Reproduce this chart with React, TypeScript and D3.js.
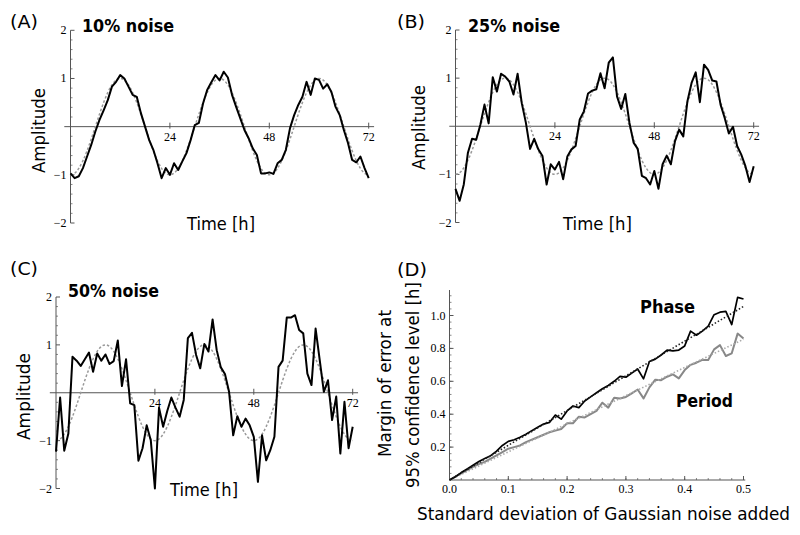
import React from "react";
import * as d3 from "d3";

// ---------- data ----------
const hours = d3.range(73);
const fitCurve = [
  -1, -0.966, -0.866, -0.707, -0.5, -0.259, 0, 0.259, 0.5, 0.707, 0.866, 0.966,
  1, 0.966, 0.866, 0.707, 0.5, 0.259, 0, -0.259, -0.5, -0.707, -0.866, -0.966,
  -1, -0.966, -0.866, -0.707, -0.5, -0.259, 0, 0.259, 0.5, 0.707, 0.866, 0.966,
  1, 0.966, 0.866, 0.707, 0.5, 0.259, 0, -0.259, -0.5, -0.707, -0.866, -0.966,
  -1, -0.966, -0.866, -0.707, -0.5, -0.259, 0, 0.259, 0.5, 0.707, 0.866, 0.966,
  1, 0.966, 0.866, 0.707, 0.5, 0.259, 0, -0.259, -0.5, -0.707, -0.866, -0.966,
  -1,
];
const noise10 = [
  -0.97, -1.07, -1.03, -0.86, -0.62, -0.38, -0.1, 0.14, 0.34, 0.55, 0.83, 0.93,
  1.07, 1.0, 0.83, 0.66, 0.62, 0.28, 0.0, -0.28, -0.48, -0.76, -1.07, -0.86,
  -1.0, -0.76, -0.9, -0.72, -0.55, -0.28, 0.03, 0.08, 0.48, 0.76, 0.92, 1.07,
  0.96, 1.14, 1.02, 0.66, 0.41, 0.17, -0.07, -0.24, -0.45, -0.59, -0.97, -0.97,
  -0.95, -0.98, -0.76, -0.69, -0.48, -0.03, 0.24, 0.45, 0.62, 0.93, 0.66, 1.0,
  0.97, 0.79, 0.88, 0.72, 0.41, 0.24, -0.07, -0.34, -0.69, -0.74, -0.62, -0.86,
  -1.07,
];
const noise25 = [
  -1.3, -1.55, -1.21, -0.55, -0.26, -0.28, 0.03, 0.45, 0.06, 1.02, 0.72, 1.09,
  1.03, 0.93, 0.66, 1.09, 0.48, 0.07, -0.47, -0.26, -0.48, -0.62, -1.21, -0.79,
  -0.9, -0.74, -1.1, -0.63, -0.48, -0.41, 0.14, 0.31, 0.68, 0.74, 0.77, 1.1,
  0.79, 1.32, 1.43, 0.62, 0.36, 0.67, 0.07, -0.34, -0.47, -1.03, -1.08, -1.21,
  -0.93, -1.3, -0.79, -0.61, -0.79, -0.31, -0.07, -0.21, 0.52, 0.9, 1.12, 0.5,
  1.28, 1.17, 0.95, 0.93, 0.45, 0.17, -0.15, -0.01, -0.41, -0.59, -0.83, -1.16,
  -0.83,
];
const noise50 = [
  -1.23, -0.1, -1.21, -0.85, 0.75, 0.67, 0.56, 0.7, 0.84, 0.44, 0.82, 0.67,
  0.8, 0.6, 0.66, 1.09, 0.14, 0.7, -0.22, -0.26, -1.42, -1.16, -0.68, -0.99,
  -2.0, -0.31, -0.71, -0.38, -0.1, -0.31, -0.5, -0.15, 1.14, 1.25, 0.79, 0.51,
  1.02, 0.86, 1.53, 0.89, 0.53, 0.39, 0.02, -0.89, -0.49, -0.71, -0.54, -0.68,
  -0.92, -1.86, -0.89, -1.41, -1.2, -0.92, 0.54, 0.67, 1.57, 1.57, 1.62, 1.31,
  1.24, 0.4, 0.16, 1.34, 0.68, 0.02, 0.26, -0.57, -0.08, -1.27, -0.19, -1.16,
  -0.71,
];
const timeTicks = [24, 48, 72];
const ampTicks = [-2, -1, 1, 2];

const sdLevels = d3.range(51).map((i) => i / 100);
const phaseMargin = [
  0, 0.02, 0.045, 0.067, 0.09, 0.112, 0.13, 0.148, 0.175, 0.21, 0.235, 0.245,
  0.26, 0.278, 0.3, 0.32, 0.34, 0.35, 0.395, 0.37, 0.42, 0.45, 0.44, 0.48,
  0.505, 0.53, 0.555, 0.575, 0.6, 0.63, 0.625, 0.65, 0.675, 0.615, 0.72, 0.735,
  0.76, 0.79, 0.785, 0.79, 0.815, 0.905, 0.88, 0.905, 0.935, 1.005, 1.02, 1.025,
  0.945, 1.11, 1.1,
];
const periodMargin = [
  0, 0.02, 0.04, 0.06, 0.08, 0.097, 0.11, 0.13, 0.15, 0.17, 0.19, 0.2, 0.21,
  0.23, 0.245, 0.26, 0.275, 0.29, 0.3, 0.31, 0.345, 0.345, 0.385, 0.38, 0.4,
  0.42, 0.47, 0.44, 0.5, 0.495, 0.505, 0.527, 0.55, 0.496, 0.563, 0.61, 0.607,
  0.628, 0.642, 0.618, 0.668, 0.7, 0.713, 0.73, 0.73, 0.794, 0.82, 0.754, 0.77,
  0.89, 0.86,
];
const phaseFit = [
  [0, 0],
  [0.5, 1.055],
];
const periodFit = [
  [0, 0],
  [0.5, 0.855],
];
const sdTicks = [0, 0.1, 0.2, 0.3, 0.4, 0.5];
const marginTicks = [0.2, 0.4, 0.6, 0.8, 1.0];

// ---------- styles ----------
const SANS = "'DejaVu Sans', sans-serif";
const SERIF = "'Liberation Serif', 'DejaVu Serif', serif";
const AXIS = "#555";

type TSProps = {
  x0: number;
  x72: number;
  yTop: number;
  yBot: number;
  values: number[];
  tag: string;
  tagPos: [number, number];
  title: string;
  titlePos: [number, number, number];
  ampPos: [number, number, number];
  timePos: [number, number, number];
};

function TimePanel(p: TSProps) {
  const x = d3.scaleLinear().domain([0, 72]).range([p.x0, p.x72]);
  const y = d3.scaleLinear().domain([-2, 2]).range([p.yBot, p.yTop]);
  const line = d3
    .line<number>()
    .x((_, i) => x(hours[i]))
    .y((d) => y(d));
  const fitLine = d3
    .line<number>()
    .x((_, i) => x(hours[i]))
    .y((d) => y(d))
    .curve(d3.curveNatural);
  const minor = d3.range(-2, 2.001, 0.2).filter((v) => Math.abs(Math.round(v) - v) > 0.01);
  return (
    <g>
      <text x={p.tagPos[0]} y={p.tagPos[1]} fontFamily={SANS} fontSize={18} textLength={28} lengthAdjust="spacingAndGlyphs">
        {p.tag}
      </text>
      <text
        x={p.titlePos[0]}
        y={p.titlePos[1]}
        fontFamily={SANS}
        fontWeight="bold"
        fontSize={18}
        textLength={p.titlePos[2]}
        lengthAdjust="spacingAndGlyphs"
      >
        {p.title}
      </text>
      {/* y axis */}
      <line x1={x(0)} x2={x(0)} y1={y(-2)} y2={y(2)} stroke={AXIS} strokeWidth={1} />
      {ampTicks.map((t) => (
        <g key={t}>
          <line x1={x(0)} x2={x(0) + 4} y1={y(t)} y2={y(t)} stroke={AXIS} />
          <text x={x(0) - 4} y={y(t) + 4} textAnchor="end" fontFamily={SERIF} fontSize={12}>
            {t < 0 ? "\u2212" + Math.abs(t) : String(t)}
          </text>
        </g>
      ))}
      {minor.map((t) => (
        <line key={"m" + t} x1={x(0)} x2={x(0) + 2} y1={y(t)} y2={y(t)} stroke={AXIS} strokeWidth={0.7} />
      ))}
      {/* x axis */}
      <line x1={x(-1.5)} x2={x(73.3)} y1={y(0)} y2={y(0)} stroke={AXIS} strokeWidth={1} />
      {timeTicks.map((t) => (
        <g key={t}>
          <line x1={x(t)} x2={x(t)} y1={y(0) + 2} y2={y(0) - 4} stroke={AXIS} />
          <text x={x(t)} y={y(0) + 14} textAnchor="middle" fontFamily={SERIF} fontSize={12}>
            {t}
          </text>
        </g>
      ))}
      <path d={fitLine(fitCurve) || ""} fill="none" stroke="#999" strokeWidth={1.5} strokeDasharray="2.5,2" />
      <path d={line(p.values) || ""} fill="none" stroke="#000" strokeWidth={2} strokeLinejoin="round" />
      <text
        transform={`translate(${p.ampPos[0]},${p.ampPos[1]}) rotate(-90)`}
        textAnchor="middle"
        fontFamily={SANS}
        fontSize={17}
        textLength={p.ampPos[2]}
        lengthAdjust="spacingAndGlyphs"
      >
        Amplitude
      </text>
      <text
        x={p.timePos[0]}
        y={p.timePos[1]}
        fontFamily={SANS}
        fontSize={17}
        textLength={p.timePos[2]}
        lengthAdjust="spacingAndGlyphs"
      >
        Time [h]
      </text>
    </g>
  );
}

function MarginPanel() {
  const x = d3.scaleLinear().domain([0, 0.5]).range([449.5, 743.5]);
  const y = d3.scaleLinear().domain([0, 1.0]).range([480, 315.5]);
  const line = d3
    .line<number>()
    .x((_, i) => x(sdLevels[i]))
    .y((d) => y(d));
  const fit = d3
    .line<number[]>()
    .x((d) => x(d[0]))
    .y((d) => y(d[1]));
  const xMinor = d3.range(0, 0.501, 0.02);
  const yMinor = d3.range(0.04, 1.151, 0.04);
  return (
    <g>
      <text x={397} y={276} fontFamily={SANS} fontSize={18} textLength={30} lengthAdjust="spacingAndGlyphs">
        (D)
      </text>
      <line x1={x(0)} x2={x(0)} y1={y(0)} y2={y(1.155)} stroke={AXIS} />
      <line x1={x(0)} x2={x(0.503)} y1={y(0)} y2={y(0)} stroke={AXIS} />
      {yMinor.map((t) => (
        <line key={"ym" + t} x1={x(0)} x2={x(0) + 2} y1={y(t)} y2={y(t)} stroke={AXIS} strokeWidth={0.7} />
      ))}
      {xMinor.map((t) => (
        <line key={"xm" + t} x1={x(t)} x2={x(t)} y1={y(0)} y2={y(0) - 2} stroke={AXIS} strokeWidth={0.7} />
      ))}
      {marginTicks.map((t) => (
        <g key={t}>
          <line x1={x(0)} x2={x(0) + 4} y1={y(t)} y2={y(t)} stroke={AXIS} />
          <text x={x(0) - 4} y={y(t) + 4} textAnchor="end" fontFamily={SERIF} fontSize={12}>
            {t.toFixed(1)}
          </text>
        </g>
      ))}
      {sdTicks.map((t) => (
        <g key={t}>
          <line x1={x(t)} x2={x(t)} y1={y(0)} y2={y(0) - 4} stroke={AXIS} />
          <text x={x(t)} y={y(0) + 13} textAnchor="middle" fontFamily={SERIF} fontSize={12}>
            {t.toFixed(1)}
          </text>
        </g>
      ))}
      <path d={line(periodMargin) || ""} fill="none" stroke="#888" strokeWidth={2} strokeLinejoin="round" />
      <path d={fit(periodFit) || ""} fill="none" stroke="#aaa" strokeWidth={1.6} strokeDasharray="1.5,2" />
      <path d={line(phaseMargin) || ""} fill="none" stroke="#000" strokeWidth={1.7} strokeLinejoin="round" />
      <path d={fit(phaseFit) || ""} fill="none" stroke="#222" strokeWidth={1.6} strokeDasharray="1.5,2" />
      <text x={640} y={313} fontFamily={SANS} fontWeight="bold" fontSize={17} textLength={55} lengthAdjust="spacingAndGlyphs">
        Phase
      </text>
      <text x={676} y={407} fontFamily={SANS} fontWeight="bold" fontSize={17} textLength={57} lengthAdjust="spacingAndGlyphs">
        Period
      </text>
      <text
        transform="translate(391,383.5) rotate(-90)"
        textAnchor="middle"
        fontFamily={SANS}
        fontSize={18}
        textLength={147}
        lengthAdjust="spacingAndGlyphs"
      >
        Margin of error at
      </text>
      <text
        transform="translate(418.5,385) rotate(-90)"
        textAnchor="middle"
        fontFamily={SANS}
        fontSize={18}
        textLength={206}
        lengthAdjust="spacingAndGlyphs"
      >
        95% confidence level [h]
      </text>
      <text x={417} y={520} fontFamily={SANS} fontSize={17} textLength={373} lengthAdjust="spacingAndGlyphs">
        Standard deviation of Gaussian noise added
      </text>
    </g>
  );
}

export default function App() {
  return (
    <svg
      width={800}
      height={535}
      viewBox="0 0 800 535"
      style={{ position: "absolute", left: 0, top: 0, background: "#fff" }}
    >
      <rect width={800} height={535} fill="#fff" />
      <TimePanel
        x0={70.5}
        x72={368.7}
        yTop={30.3}
        yBot={223}
        values={noise10}
        tag="(A)"
        tagPos={[10, 28]}
        title="10% noise"
        titlePos={[82, 32, 92]}
        ampPos={[44.5, 130.5, 85]}
        timePos={[187, 229.5, 68]}
      />
      <TimePanel
        x0={455.5}
        x72={753.7}
        yTop={30}
        yBot={222.5}
        values={noise25}
        tag="(B)"
        tagPos={[397, 28]}
        title="25% noise"
        titlePos={[468, 32, 92]}
        ampPos={[424.5, 127.5, 85]}
        timePos={[563, 229.5, 69]}
      />
      <TimePanel
        x0={56}
        x72={352.7}
        yTop={297}
        yBot={488.5}
        values={noise50}
        tag="(C)"
        tagPos={[10, 275]}
        title="50% noise"
        titlePos={[68, 297, 91]}
        ampPos={[30, 396.5, 87]}
        timePos={[170, 495.5, 68]}
      />
      <MarginPanel />
    </svg>
  );
}
